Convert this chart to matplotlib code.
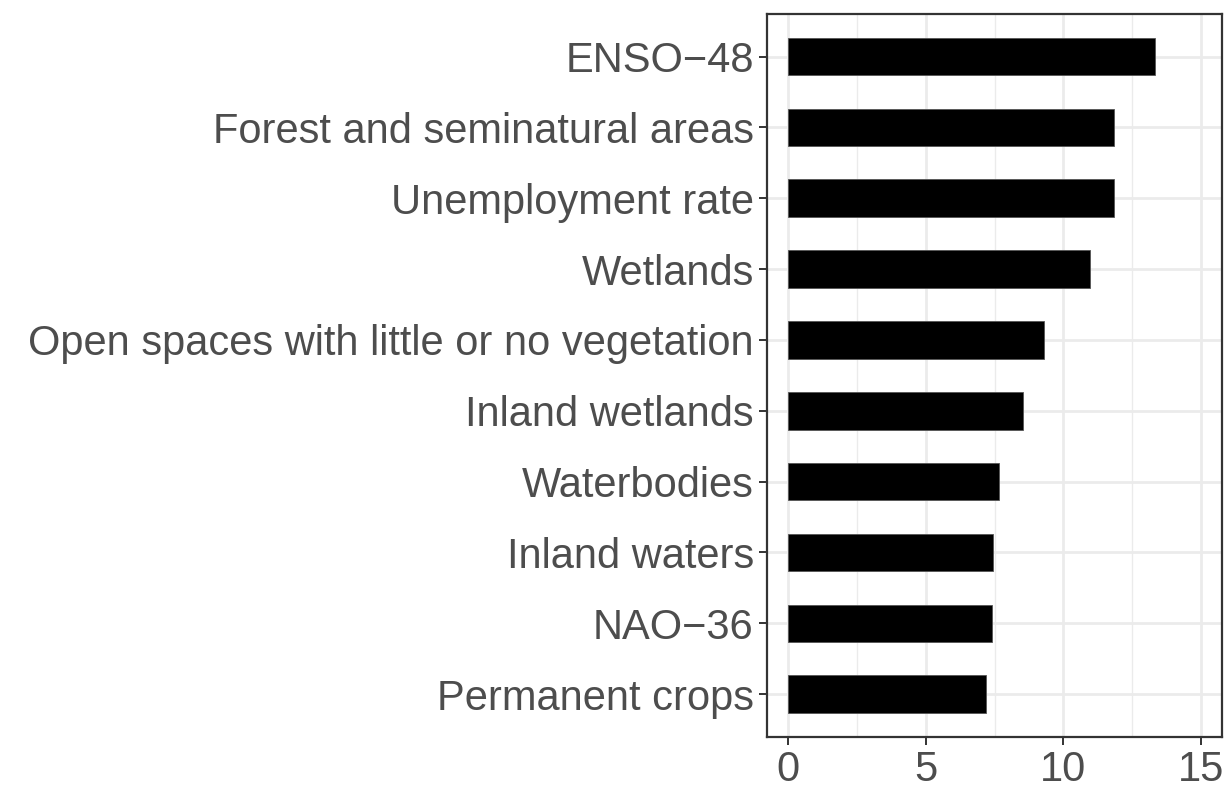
import numpy as np
import matplotlib.pyplot as plt
from matplotlib.ticker import MultipleLocator

labels = ['ENSO\u221248', 'Forest and seminatural areas', 'Unemployment rate',
          'Wetlands', 'Open spaces with little or no vegetation', 'Inland wetlands',
          'Waterbodies', 'Inland waters', 'NAO\u221236', 'Permanent crops']
values = [13.31, 11.85, 11.83, 10.98, 9.30, 8.54, 7.65, 7.43, 7.41, 7.20]

plt.rcParams['font.family'] = ['Liberation Sans', 'DejaVu Sans']

fig = plt.figure(figsize=(12.29, 7.86), dpi=100)
ax = fig.add_axes([0.6241, 0.0627, 0.3702, 0.9195])

y = np.arange(len(labels))[::-1]
ax.barh(y, values, height=0.53, color='black', edgecolor='#555555', linewidth=0.6, zorder=3)

ax.set_xlim(-0.75, 15.75)
ax.set_ylim(-0.6, len(labels) - 1 + 0.6)
ax.set_yticks(y)
ax.set_yticklabels(labels)
ax.xaxis.set_major_locator(MultipleLocator(5))
ax.xaxis.set_minor_locator(MultipleLocator(2.5))

ax.grid(which='major', color='#EBEBEB', linewidth=2.0, zorder=0)
ax.grid(which='minor', axis='x', color='#EBEBEB', linewidth=1.0, zorder=0)
ax.set_axisbelow(True)

for s in ax.spines.values():
    s.set_color('#333333')
    s.set_linewidth(1.6)

ax.tick_params(axis='both', which='major', length=5.5, width=1.4, color='#333333',
               labelsize=30, labelcolor='#4D4D4D', pad=4)
ax.tick_params(axis='both', which='minor', length=0)

plt.savefig('out.png', dpi=100)
